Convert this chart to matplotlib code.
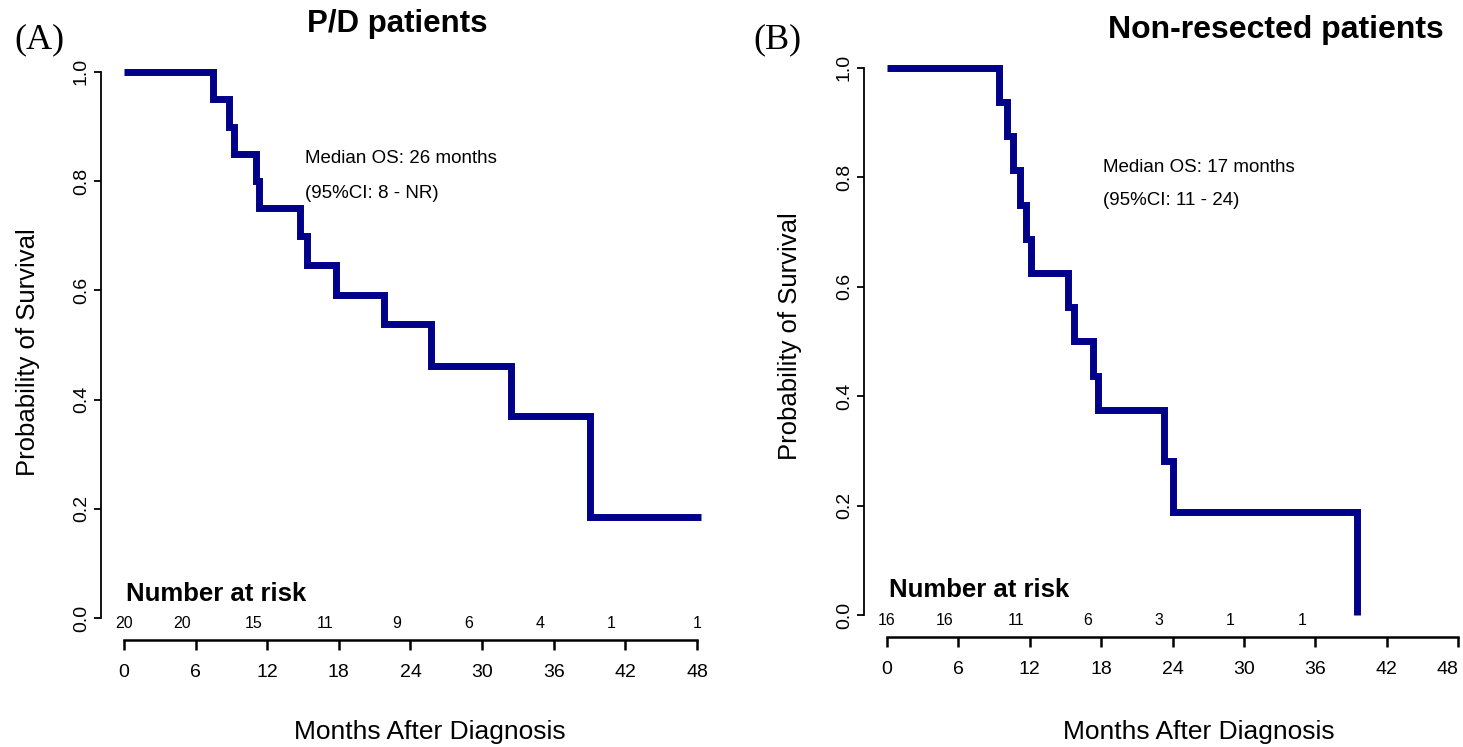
import matplotlib
matplotlib.use("Agg")
import matplotlib.pyplot as plt

# Kaplan-Meier step data (months, survival probability)
months_pd = [0, 7.5, 8.8, 9.2, 11.1, 11.3, 14.75, 15.3, 17.8, 21.8, 25.7, 32.4, 39.0, 48.3]
surv_pd = [1.0, 0.95, 0.90, 0.85, 0.80, 0.75, 0.70, 0.646, 0.592, 0.538, 0.462, 0.37, 0.185, 0.185]

months_nr = [0, 9.4, 10.1, 10.6, 11.2, 11.7, 12.1, 15.2, 15.7, 17.3, 17.7, 23.3, 24.0, 39.5]
surv_nr = [1.0, 0.9375, 0.875, 0.8125, 0.75, 0.6875, 0.625, 0.5625, 0.5, 0.4375, 0.375, 0.281, 0.1875, 0.0]

# number at risk, one value per 6-month tick
risk_pd = [20, 20, 15, 11, 9, 6, 4, 1, 1]
risk_nr = [16, 16, 11, 6, 3, 1, 1]

x_ticks = [0, 6, 12, 18, 24, 30, 36, 42, 48]
y_ticks = [0.0, 0.2, 0.4, 0.6, 0.8, 1.0]
y_ticklabels = ["0.0", "0.2", "0.4", "0.6", "0.8", "1.0"]

titles = ["P/D patients", "Non-resected patients"]
panel_tags = ["(A)", "(B)"]
median_os = ["Median OS: 26 months", "Median OS: 17 months"]
median_ci = ["(95%CI: 8 - NR)", "(95%CI: 11 - 24)"]

plt.rcParams["font.family"] = ["Liberation Sans", "DejaVu Sans"]
LINE = "#00008B"
W, H = 1463, 747

fig = plt.figure(figsize=(14.63, 7.47), dpi=100)
ax_a = fig.add_axes([0.0690, 0.1432, 0.4231, 0.7898])
ax_b = fig.add_axes([0.5906, 0.1473, 0.4094, 0.7912])


def ftext(px, py, s, **kw):
    # place text using pixel coords measured from the top-left corner
    fig.text(px / W, 1 - py / H, s, **kw)


def km_panel(ax, months, surv, risk, xmax, idx, note_x, note_y):
    ax.step(months, surv, where="post", color=LINE, lw=5,
            solid_joinstyle="miter", solid_capstyle="butt")
    ax.set_xlim(-1.92, xmax)
    ax.set_ylim(-0.04, 1.04)
    for s in ["top", "right"]:
        ax.spines[s].set_visible(False)
    ax.spines["left"].set_bounds(0, 1)
    ax.spines["bottom"].set_bounds(0, 48)
    ax.spines["left"].set_linewidth(1.3)
    ax.spines["bottom"].set_linewidth(1.8)
    ax.set_xticks(x_ticks)
    ax.set_yticks(y_ticks)
    ax.set_yticklabels(y_ticklabels, rotation=90, va="center")
    ax.tick_params(axis="x", length=7, width=1.8, pad=10, labelsize=14)
    ax.tick_params(axis="y", length=5, width=1.3, pad=3, labelsize=14)

    ax.text(note_x, note_y[0], median_os[idx], fontsize=13.5, va="center", ha="left")
    ax.text(note_x, note_y[1], median_ci[idx], fontsize=13.5, va="center", ha="left")
    ax.text(0.2, 0.045, "Number at risk", fontsize=18.5, fontweight="bold",
            va="center", ha="left")
    for i, n in enumerate(risk):
        shift = 0 if i == 0 or (i == len(risk) - 1 and len(risk) == 9) else -1.15
        ax.text(x_ticks[i] + shift, -0.01, str(n), fontsize=11.5,
                ha="center", va="center")


km_panel(ax_a, months_pd, surv_pd, risk_pd, 49.92, 0, 15.2, (0.842, 0.778))
km_panel(ax_b, months_nr, surv_nr, risk_nr, 48.4, 1, 18.15, (0.817, 0.757))
# last tick label of panel B sits on the figure edge
ax_b.get_xticklabels()[-1].set_ha("right")

ftext(430, 732, "Months After Diagnosis", fontsize=19, ha="center", va="center")
ftext(1199, 732, "Months After Diagnosis", fontsize=19, ha="center", va="center")
ftext(28, 352, "Probability of Survival", fontsize=18.5, rotation=90,
      ha="center", va="center")
ftext(790, 336, "Probability of Survival", fontsize=18.5, rotation=90,
      ha="center", va="center")

ftext(397, 24, titles[0], fontsize=22.5, fontweight="bold", ha="center", va="center")
ftext(1276, 30, titles[1], fontsize=23, fontweight="bold", ha="center", va="center")
ftext(14, 40, panel_tags[0], fontsize=26, family="Liberation Serif",
      ha="left", va="center")
ftext(753, 40, panel_tags[1], fontsize=26, family="Liberation Serif",
      ha="left", va="center")

fig.savefig("out.png", dpi=100)
